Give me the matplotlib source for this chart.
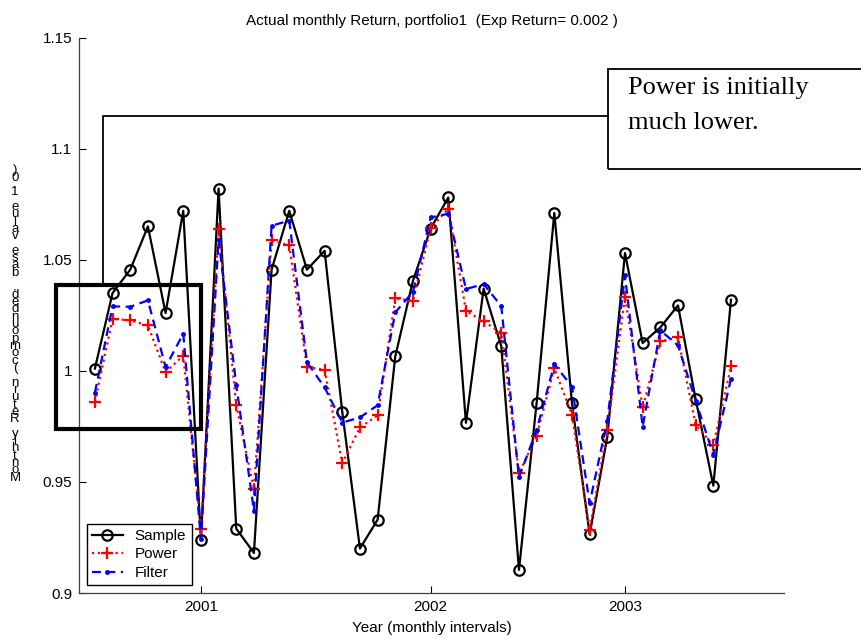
import numpy as np
import matplotlib
matplotlib.use("Agg")
import matplotlib.pyplot as plt
from matplotlib.patches import Rectangle
from matplotlib.lines import Line2D

plt.rcParams['font.family'] = ['Liberation Sans', 'DejaVu Sans']

# monthly values, 37 months
sample = [1.001, 1.035, 1.0455, 1.065, 1.026, 1.072, 0.924, 1.082, 0.929, 0.918,
          1.0455, 1.072, 1.0455, 1.054, 0.9815, 0.920, 0.933, 1.0065, 1.0405, 1.064,
          1.078, 0.9766, 1.037, 1.011, 0.9104, 0.9856, 1.071, 0.9855, 0.9264, 0.9703,
          1.053, 1.0125, 1.0195, 1.0294, 0.9872, 0.9483, 1.032]
power = [0.9859, 1.0234, 1.0227, 1.0204, 0.9994, 1.0068, 0.9287, 1.064, 0.9845, 0.9468,
         1.0587, 1.0564, 1.0017, 1.0005, 0.9584, 0.9745, 0.9799, 1.0326, 1.0315, 1.0643,
         1.073, 1.027, 1.0222, 1.0171, 0.9539, 0.9707, 1.0012, 0.9802, 0.9284, 0.9734,
         1.0332, 0.9835, 1.0132, 1.015, 0.9757, 0.9664, 1.002]
filt = [0.9902, 1.029, 1.0288, 1.0317, 1.0017, 1.0167, 0.9242, 1.059, 0.9937, 0.937,
        1.0653, 1.0676, 1.0039, 0.9925, 0.9767, 0.979, 0.9845, 1.0263, 1.0355, 1.069,
        1.0707, 1.0368, 1.039, 1.0291, 0.952, 0.9734, 1.003, 0.9929, 0.9404, 0.9776,
        1.0429, 0.9749, 1.0182, 1.0114, 0.9866, 0.9622, 0.9964]
year_ticks = [6, 19, 30]
year_labels = ['2001', '2002', '2003']
ylabel = 'Monthly Return (compounded, base value 1.0)'

months = np.arange(len(sample))

W, H = 861, 639
fig = plt.figure(figsize=(W / 100, H / 100), dpi=100)
ax = fig.add_axes([79 / W, 1 - 593 / H, (784 - 79) / W, (593 - 37.5) / H])

ax.plot(months, sample, color='black', lw=1.6, marker='o', ms=7.5, mfc='none',
        mew=1.6, label='Sample')
ax.plot(months, power, color='red', lw=1.6, ls=':', marker='+', ms=9, mew=1.6,
        label='Power')
ax.plot(months, filt, color='blue', lw=1.6, ls=(0, (4, 2.5)), marker='.', ms=5,
        label='Filter')

ax.set_xlim(-0.9, 39.0)
ax.set_ylim(0.9, 1.15)
ax.set_xticks(year_ticks)
ax.set_xticklabels(year_labels)
ax.set_yticks([0.9, 0.95, 1.0, 1.05, 1.1, 1.15])
ax.set_yticklabels(['0.9', '0.95', '1', '1.05', '1.1', '1.15'])
ax.tick_params(direction='in', length=5, width=0.8, labelsize=11, pad=5)
ax.spines['top'].set_visible(False)
ax.spines['right'].set_visible(False)
for s in ('left', 'bottom'):
    ax.spines[s].set_color('#404040')
    ax.spines[s].set_linewidth(0.9)

ax.set_title('Actual monthly Return, portfolio1  (Exp Return= 0.002 )',
             fontsize=11, pad=9)
ax.set_xlabel('Year (monthly intervals)', fontsize=11, labelpad=5)

leg = ax.legend(loc='lower left', bbox_to_anchor=(0.0, 0.0), fontsize=11,
                fancybox=False, framealpha=1, edgecolor='black',
                handlelength=2.0, borderpad=0.35, labelspacing=0.3,
                handletextpad=0.8, borderaxespad=0.5)
leg.get_frame().set_linewidth(1.0)

# garbled vertical y label: upright characters stacked bottom to top
fig.text(15 / W, 1 - 324 / H, '\n'.join(reversed(ylabel)), fontsize=9.5,
         ha='center', va='center', linespacing=0.48)

# annotation: highlight box, connector and text box
fig.add_artist(Rectangle((56 / W, 1 - 429 / H), (201 - 56) / W, (429 - 285) / H,
                         transform=fig.transFigure, fill=False, lw=3,
                         edgecolor='black'))
fig.add_artist(Line2D([103 / W, 103 / W, 608 / W],
                      [1 - 285 / H, 1 - 116 / H, 1 - 116 / H],
                      transform=fig.transFigure, color='black', lw=1.3))
fig.add_artist(Rectangle((608 / W, 1 - 169 / H), (880 - 608) / W, (169 - 69) / H,
                         transform=fig.transFigure, fill=False, lw=1.3,
                         edgecolor='black', clip_on=False))
fig.text(628 / W, 1 - 77 / H, 'Power is initially\nmuch lower.',
         family=['Liberation Serif', 'DejaVu Serif'], fontsize=19,
         ha='left', va='top', linespacing=1.78)

fig.savefig('out.png', dpi=100)
